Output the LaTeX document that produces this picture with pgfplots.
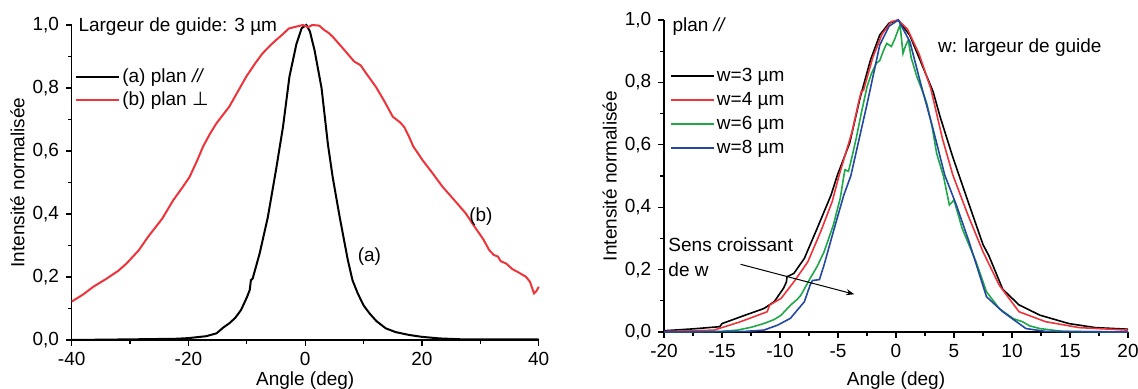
\documentclass[border=0pt]{standalone}
\usepackage{fontspec}
\setmainfont{Liberation Sans}
\newfontfamily\dejavu{DejaVu Sans}
\usepackage{pgfplots}
\pgfplotsset{compat=1.18}
\usetikzlibrary{arrows.meta}
\definecolor{cred}{RGB}{236,52,58}
\definecolor{cgreen}{RGB}{30,168,72}
\definecolor{cblue}{RGB}{36,72,162}

\begin{document}
\fontsize{9.5}{11.4}\selectfont
\begin{tikzpicture}
\path[use as bounding box] (0,0) rectangle (569pt,194.5pt);
\pgfplotsset{
  common/.style={
    scale only axis,
    axis lines*=left,
    axis line style={line width=0.7pt},
    tick align=outside,
    major tick length=3pt,
    minor tick length=1.8pt,
    tick style={line width=0.6pt, black},
    ymin=0, ymax=1,
    ytick={0,0.2,0.4,0.6,0.8,1},
    minor y tick num=1,
    yticklabel style={/pgf/number format/.cd, fixed, fixed zerofill, precision=1, use comma},
    /pgf/number format/assume math mode=true,
    xlabel={Angle (deg)},
    ylabel={Intensité normalisée},
    ylabel style={yshift=-2.5pt},
    every axis label/.append style={font=\fontsize{9.5}{11.4}\selectfont},
    ticklabel style={font=\fontsize{9.5}{11.4}\selectfont},
    clip=false,
    legend cell align=left,
    legend style={draw=none, fill=none, inner sep=0pt,
      font=\fontsize{9.5}{11.4}\selectfont, nodes={inner sep=1.2pt},
      /tikz/every even column/.append style={column sep=1.3pt}},
    legend image code/.code={\draw[#1] (0pt,0pt) -- (21.5pt,0pt);},
  }
}
% ---------------- left panel ----------------
\begin{axis}[common, at={(35.85pt,24.5pt)}, anchor=south west,
  width=233.5pt, height=157.5pt,
  xmin=-40, xmax=40, xtick={-40,-20,0,20,40}, minor x tick num=1,
  xlabel style={yshift=4pt},
  legend style={at={(rel axis cs:0.006,0.869)}, anchor=north west, row sep=0.5pt}]
\addplot[black, line width=1pt] coordinates {
(-40,0.0) (-30,0.002) (-22,0.004) (-20,0.006) (-17,0.012) (-15.2,0.021) (-14,0.04)
(-13,0.053) (-12,0.07) (-11,0.095) (-10,0.135) (-9.5,0.159) (-9.3,0.19) (-9.0,0.195)
(-7.8,0.275) (-6.4,0.39) (-5.0,0.54) (-3.8,0.677) (-2.7,0.836) (-1.5,0.94) (-0.6,0.99)
(0.2,1.0) (0.8,0.98) (1.6,0.92) (2.8,0.80) (3.9,0.62) (4.7,0.518) (5.9,0.391)
(7.3,0.254) (8.1,0.19) (9.0,0.148) (10,0.11) (11,0.085) (12.2,0.06) (13.8,0.037)
(15.5,0.025) (17.8,0.016) (20,0.01) (23,0.005) (27,0.002) (40,0.002)};
\addlegendentry{(a) plan \textit{//}}
\addplot[cred, line width=1pt] coordinates {
(-40,0.122) (-38,0.145) (-36.3,0.169) (-34,0.195) (-32,0.22) (-30.6,0.243) (-28.5,0.285)
(-26.9,0.328) (-24.5,0.385) (-22.6,0.444) (-21,0.485) (-19.8,0.518) (-18.5,0.57)
(-17.5,0.614) (-16.3,0.655) (-15.2,0.688) (-13,0.741) (-11.5,0.79) (-10.1,0.836)
(-8.5,0.88) (-7.3,0.91) (-6,0.935) (-5,0.952) (-4,0.968) (-2.8,0.989) (-1.5,0.995)
(-0.4,1.0) (0.5,0.993) (1.2,1.0) (2.4,0.998) (3.2,0.985) (4,0.975) (4.7,0.963)
(6.5,0.925) (8.4,0.884) (9.5,0.872) (10.5,0.845) (12.1,0.804) (13.5,0.76) (15,0.709)
(16.3,0.69) (17,0.675) (17.8,0.645) (18.5,0.615) (20.1,0.571) (21.8,0.53) (23.5,0.487)
(25.5,0.445) (27.5,0.402) (29,0.36) (30.5,0.32) (31.5,0.286) (32.3,0.27) (33,0.265)
(33.5,0.25) (34.4,0.243) (35.5,0.225) (36.5,0.215) (37.8,0.201) (38.5,0.185)
(39.2,0.148) (39.6,0.155) (40,0.169)};
\addlegendentry{(b) plan {\dejavu ⊥}}
\node[anchor=west, inner sep=0pt] at (axis cs:-38.9,0.994) {Largeur de guide: 3 µm};
\node[inner sep=0pt] at (axis cs:11.0,0.264) {(a)};
\node[inner sep=0pt] at (axis cs:30.1,0.391) {(b)};
\end{axis}
% ---------------- right panel ----------------
\begin{axis}[common, at={(332pt,28.5pt)}, anchor=south west,
  width=232pt, height=156pt,
  xmin=-20, xmax=20, xtick={-20,-15,-10,-5,0,5,10,15,20}, minor x tick num=1,
  legend style={at={(rel axis cs:0.012,0.855)}, anchor=north west, row sep=1.6pt}]
\addplot[black, line width=0.8pt] coordinates {
(-20,0.004) (-17.5,0.010) (-15.2,0.017) (-15.0,0.027) (-13,0.054) (-11.4,0.075)
(-10.5,0.097) (-9.7,0.14) (-9.45,0.16) (-9.4,0.177) (-8.8,0.188) (-7.9,0.236)
(-6.8,0.332) (-5.6,0.439) (-5.05,0.503) (-4.0,0.605) (-3.1,0.75) (-2.2,0.872)
(-1.4,0.952) (-0.6,0.99) (0.2,1.0) (1.2,0.95) (2.2,0.86) (3.2,0.77) (3.8,0.69)
(4.9,0.56) (6.1,0.43) (7.5,0.28) (8.0,0.245) (9.2,0.137) (10.6,0.087) (12.4,0.054)
(14.9,0.027) (17.2,0.014) (20,0.009)};
\addlegendentry{w=3 µm}
\addplot[cred, line width=0.8pt] coordinates {
(-20,0.002) (-17.5,0.004) (-15.7,0.006) (-13.4,0.033) (-11.1,0.065) (-10.9,0.086)
(-9.9,0.108) (-8.8,0.161) (-7.6,0.225) (-6.5,0.321) (-5.5,0.418) (-4.9,0.503)
(-3.8,0.64) (-3.2,0.74) (-3.0,0.77) (-2.8,0.775) (-2.0,0.88) (-1.2,0.955)
(-0.4,0.995) (0.2,1.0) (1.0,0.97) (2.0,0.89) (3.0,0.78) (4.0,0.62) (4.9,0.503)
(6.2,0.375) (7.5,0.257) (8.9,0.15) (10.6,0.065) (12.9,0.033) (15.8,0.014) (20,0.006)};
\addlegendentry{w=4 µm}
\addplot[cgreen, line width=0.8pt] coordinates {
(-20,0.0) (-15,0.002) (-13.7,0.006) (-12.5,0.015) (-11.4,0.027) (-10.5,0.04)
(-9.9,0.054) (-9.1,0.086) (-8.5,0.105) (-8.2,0.118) (-7.4,0.172) (-6.8,0.21)
(-6.2,0.257) (-5.4,0.343) (-4.8,0.43) (-4.5,0.50) (-4.4,0.52) (-4.1,0.515)
(-3.8,0.56) (-3.4,0.626) (-3.0,0.70) (-2.5,0.786) (-2.1,0.83) (-1.7,0.861)
(-1.4,0.87) (-1.1,0.90) (-0.8,0.925) (-0.4,0.915) (-0.1,0.94) (0.35,0.985)
(0.6,0.893) (0.85,0.92) (1.06,0.936) (1.3,0.88) (1.8,0.818) (2.2,0.78) (2.65,0.733)
(3.1,0.66) (3.5,0.573) (4.1,0.498) (4.6,0.407) (5.0,0.423) (5.7,0.332) (6.9,0.225)
(7.8,0.129) (8.9,0.075) (10.1,0.043) (10.9,0.033) (11.5,0.02) (12.4,0.011)
(14.4,0.002) (20,0.0)};
\addlegendentry{w=6 µm}
\addplot[cblue, line width=0.8pt] coordinates {
(-20,0.0) (-13,0.002) (-11.4,0.006) (-10.2,0.022) (-9.1,0.044) (-7.9,0.097)
(-7.4,0.151) (-7.2,0.165) (-6.6,0.168) (-6.2,0.215) (-5.4,0.322) (-4.5,0.439)
(-3.9,0.5) (-2.5,0.73) (-1.4,0.92) (-0.6,0.98) (0.2,1.0) (1.2,0.93) (2.1,0.80)
(3.2,0.65) (4.2,0.503) (5.2,0.407) (6.3,0.289) (7.8,0.113) (9.2,0.065)
(11.2,0.011) (12.9,0.002) (20,0.0)};
\addlegendentry{w=8 µm}
\node[anchor=west, inner sep=0pt] at (axis cs:-19.3,0.978) {plan \textit{//}};
\node[anchor=west, inner sep=0pt] at (axis cs:3.6,0.91) {w: largeur de guide};
\node[anchor=west, inner sep=0pt] at (axis cs:-19.65,0.279) {Sens croissant};
\node[anchor=west, inner sep=0pt] at (axis cs:-19.65,0.199) {de w};
\draw[-{Stealth[length=4pt,width=3pt]}, line width=0.5pt] (axis cs:-13.4,0.217) -- (axis cs:-3.6,0.121);
\end{axis}
\end{tikzpicture}
\end{document}
